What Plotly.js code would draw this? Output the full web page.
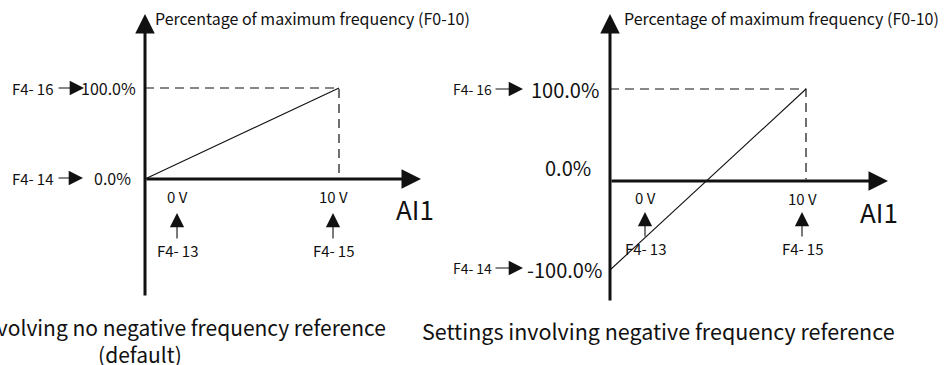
<!DOCTYPE html>
<html>
<head>
<meta charset="utf-8">
<script src="https://cdn.plot.ly/plotly-3.0.1.min.js"></script>
<style>html,body{margin:0;padding:0;background:#fff;}#chart{width:944px;height:365px;}</style>
</head>
<body>
<div id="chart"></div>
<script>
// ---- data ----
const voltage = [0, 10];                 // AI1 input (V): F4-13, F4-15
const pctDefault = [0, 100];             // % of max frequency, default setting
const pctNegative = [-100, 100];         // % of max frequency, negative setting
const xTickLabels = ['0 V', '10 V'];
const xParamLabels = ['F4-\u200913', 'F4-\u200915'];
const yParamLabels = ['F4-\u200914', 'F4-\u200916'];
const yTickLeft = ['0.0%', '100.0%'];
const yTickRight = ['-100.0%', '100.0%'];
const zeroLabel = '0.0%';
const axisTitle = 'Percentage of maximum frequency (F0-10)';
const xAxisName = 'AI1';
const captionLeft = 'Settings involving no negative frequency reference<br>(default)';
const captionRight = 'Settings involving negative frequency reference';

// ---- layout helpers ----
const W = 944, H = 365;
const FONT = '"Noto Sans CJK SC", "Noto Sans", sans-serif';
// panel geometry (pixels)
const L = {x0: 145, xs: 19.4, y0: 179, ys: 0.91};
const R = {x0: 610, xs: 19.6, y0: 179.5, ys: 0.905};
function px(p) { return p / W; }
function py(p) { return 1 - p / H; }

const black = '#111';
const traces = [
  {x: [voltage[0], voltage[1], voltage[1]], y: [pctDefault[1], pctDefault[1], 0],
   xaxis: 'x', yaxis: 'y', mode: 'lines', line: {color: black, width: 1.2, dash: '9px,6px'}, hoverinfo: 'skip'},
  {x: voltage, y: pctDefault, xaxis: 'x', yaxis: 'y', mode: 'lines',
   line: {color: black, width: 1.1}, hoverinfo: 'skip'},
  {x: [voltage[0], voltage[1], voltage[1]], y: [pctNegative[1], pctNegative[1], 0],
   xaxis: 'x2', yaxis: 'y2', mode: 'lines', line: {color: black, width: 1.2, dash: '9px,6px'}, hoverinfo: 'skip'},
  {x: voltage, y: pctNegative, xaxis: 'x2', yaxis: 'y2', mode: 'lines',
   line: {color: black, width: 1.1}, hoverinfo: 'skip'}
];

function txt(text, x, y, size, anchor, extra) {
  return Object.assign({text: text, x: px(x), y: py(y), xref: 'paper', yref: 'paper',
    showarrow: false, xanchor: anchor || 'center', yanchor: 'middle',
    font: {family: FONT, size: size, color: black}}, extra || {});
}
function arrow(tx, ty, ax, ay, w, size) {
  return {text: '', x: px(tx), y: py(ty), xref: 'paper', yref: 'paper',
    ax: ax, ay: ay, axref: 'pixel', ayref: 'pixel', showarrow: true,
    arrowhead: 2, arrowwidth: w, arrowsize: size, arrowcolor: black, standoff: 0, startstandoff: 0};
}

const AX_W = 3, AX_S = 1.3, LB_W = 1.1, LB_S = 2.6;
const ann = [];
// ---------- left panel ----------
ann.push(arrow(L.x0, 14, 0, 283, AX_W, AX_S));
ann.push(arrow(421, L.y0, -276, 0, AX_W, AX_S));
ann.push(txt(axisTitle, 153, 18, 16, 'left'));
ann.push(txt(yTickLeft[1], 138, 88, 16, 'right'));
ann.push(txt(yTickLeft[0], 133, 178, 16, 'right'));
ann.push(txt(yParamLabels[1], 32, 88, 15));
ann.push(txt(yParamLabels[0], 32, 178, 15));
ann.push(arrow(84, 88, -27, 0, LB_W, LB_S));
ann.push(arrow(83, 178, -26, 0, LB_W, LB_S));
ann.push(txt(xTickLabels[0], 177, 196, 15));
ann.push(txt(xTickLabels[1], 333, 196, 15));
ann.push(arrow(177, 213, 0, 27, LB_W, LB_S));
ann.push(arrow(333, 213, 0, 27, LB_W, LB_S));
ann.push(txt(xParamLabels[0], 177, 250, 15));
ann.push(txt(xParamLabels[1], 333, 250, 15));
ann.push(txt(xAxisName, 415, 208, 26));
ann.push(txt(captionLeft, 140, 340, 21, 'center', {align: 'center'}));
// ---------- right panel ----------
ann.push(arrow(R.x0, 14, 0, 288, AX_W, AX_S));
ann.push(arrow(888, 181, -278, 0, AX_W, AX_S));
ann.push(txt(axisTitle, 622, 18, 16, 'left'));
ann.push(txt(yTickRight[1], 601, 89, 20, 'right'));
ann.push(txt(zeroLabel, 593, 167, 20, 'right'));
ann.push(txt(yTickRight[0], 604, 269, 20, 'right'));
ann.push(txt(yParamLabels[1], 472, 89, 14));
ann.push(txt(yParamLabels[0], 472, 268, 14));
ann.push(arrow(523, 89, -29, 0, LB_W, LB_S));
ann.push(arrow(523, 268, -29, 0, LB_W, LB_S));
ann.push(txt(xTickLabels[0], 645, 197, 15));
ann.push(txt(xTickLabels[1], 802, 198, 15));
ann.push(arrow(645, 212, 0, 26, LB_W, LB_S));
ann.push(arrow(802, 212, 0, 26, LB_W, LB_S));
ann.push(txt(xParamLabels[0], 645, 248, 15));
ann.push(txt(xParamLabels[1], 802, 248, 15));
ann.push(txt(xAxisName, 879, 212, 26));
ann.push(txt(captionRight, 658, 330, 21.5));

const hid = {visible: false, fixedrange: true, showgrid: false, zeroline: false};
const layout = {
  width: W, height: H, margin: {l: 0, r: 0, t: 0, b: 0},
  paper_bgcolor: '#fff', plot_bgcolor: 'rgba(0,0,0,0)', showlegend: false,
  xaxis: Object.assign({domain: [0, 0.5], range: [(0 - L.x0) / L.xs, (472 - L.x0) / L.xs]}, hid),
  yaxis: Object.assign({domain: [0, 1], range: [(L.y0 - H) / L.ys, L.y0 / L.ys]}, hid),
  xaxis2: Object.assign({domain: [0.5, 1], range: [(472 - R.x0) / R.xs, (W - R.x0) / R.xs]}, hid),
  yaxis2: Object.assign({domain: [0, 1], anchor: 'x2', range: [(R.y0 - H) / R.ys, R.y0 / R.ys]}, hid),
  annotations: ann
};
Plotly.newPlot('chart', traces, layout, {staticPlot: true, displayModeBar: false});
</script>
</body>
</html>
